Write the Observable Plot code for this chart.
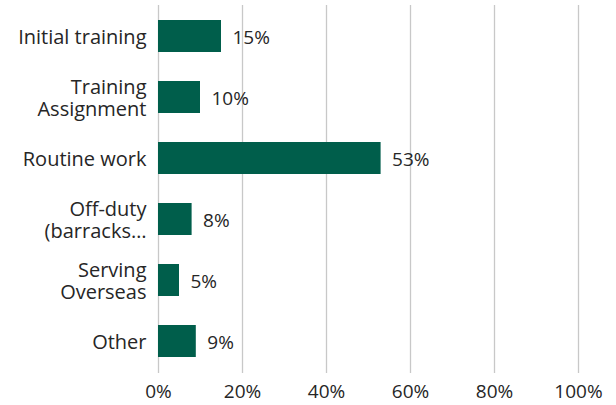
<!DOCTYPE html>
<html><head><meta charset="utf-8">
<script src="https://cdn.jsdelivr.net/npm/d3@7"></script>
<script src="https://cdn.jsdelivr.net/npm/@observablehq/plot@0.6"></script>
<style>body{margin:0;background:#fff}</style>
</head><body><div id="chart"></div>
<script>
const categories = ["Initial training", "Training\nAssignment", "Routine work", "Off-duty\n(barracks…", "Serving\nOverseas", "Other"];
const values = [15, 10, 53, 8, 5, 9];
const xTicks = [0, 20, 40, 60, 80, 100];
const data = categories.map((c, i) => ({category: c, value: values[i]}));
const chart = Plot.plot({
  width: 616, height: 405,
  marginLeft: 158, marginRight: 38, marginTop: 5, marginBottom: 32,
  style: {fontFamily: "'Open Sans', sans-serif", fontSize: "19px", color: "#262626", background: "#fff"},
  x: {domain: [0, 100], ticks: xTicks, tickFormat: d => d + "%"},
  y: {domain: categories, paddingInner: 0.475, paddingOuter: 0.25},
  marks: [
    Plot.gridX(xTicks, {stroke: "#c8c8c8", strokeOpacity: 1, strokeWidth: 1.3}),
    Plot.barX(data, {x: "value", y: "category", fill: "#005e4b"}),
    Plot.text(data, {x: "value", y: "category", text: d => d.value + "%", textAnchor: "start", dx: 11, dy: 1, fill: "#262626", fontSize: 19}),
    Plot.axisX(xTicks, {tickSize: 0, tickPadding: 11, tickFormat: d => d + "%", fontSize: 19, fill: "#262626", label: null}),
    Plot.axisY({tickSize: 0, tickPadding: 12, fontSize: 20, fill: "#262626", lineHeight: 1.1, label: null})
  ]
});
document.getElementById("chart").append(chart);
</script></body></html>
